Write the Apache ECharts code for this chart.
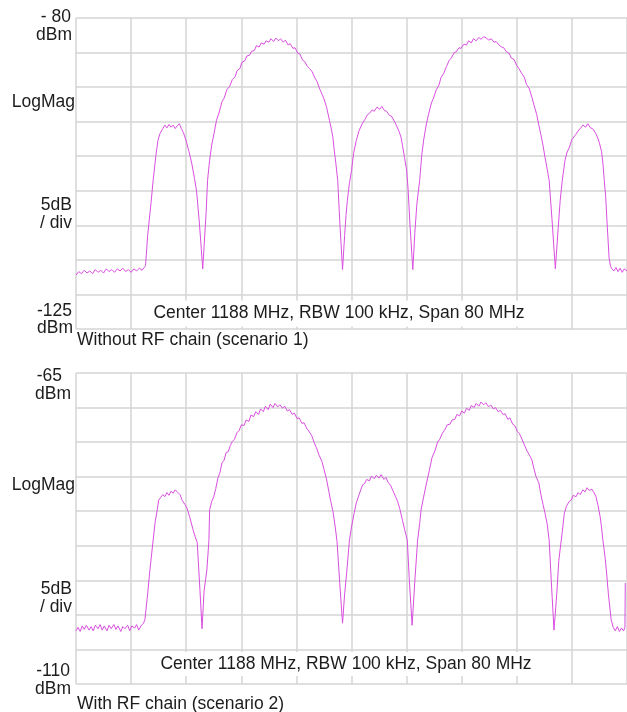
<!DOCTYPE html>
<html>
<head>
<meta charset="utf-8">
<script src="https://cdn.jsdelivr.net/npm/echarts@6/dist/echarts.min.js"></script>
<style>
html,body{margin:0;padding:0;background:#fff;}
#chart{width:627px;height:712px;}
</style>
</head>
<body>
<div id="chart"></div>
<script>
// Frequency axis: Center 1188 MHz, Span 80 MHz, 10 divisions
const freqMin = 1148;
const freqMax = 1228;
const freqStep = 8;

// Reference levels (dBm), 5 dB / div
const topRange = [-125, -80];
const bottomRange = [-110, -65];
const dbPerDiv = 5;

// Text
const topLeftLabels = ['- 80', 'dBm', 'LogMag', '5dB', '/ div', '-125', 'dBm'];
const bottomLeftLabels = ['-65', 'dBm', 'LogMag', '5dB', '/ div', '-110', 'dBm'];
const settingsText = 'Center 1188 MHz, RBW 100 kHz, Span 80 MHz';
const topCaption = 'Without RF chain (scenario 1)';
const bottomCaption = 'With RF chain (scenario 2)';

// Scenario 1 trace [MHz, dBm]
const traceWithoutRF = [
 [1148.0,-117.2],[1148.4,-116.7],[1148.8,-117.0],[1149.2,-116.5],[1149.6,-116.9],[1150.0,-116.6],
 [1150.4,-117.0],[1150.8,-116.4],[1151.2,-116.8],[1151.6,-116.5],[1152.0,-116.9],[1152.4,-116.3],
 [1152.8,-116.7],[1153.2,-116.4],[1153.6,-116.8],[1154.0,-116.3],[1154.4,-116.6],[1154.8,-116.2],
 [1155.2,-116.7],[1155.6,-116.4],[1156.0,-116.8],[1156.4,-116.3],[1156.8,-116.6],[1157.2,-116.2],
 [1157.6,-116.5],[1157.9,-116.1],
 [1158.1,-115.8],[1158.4,-111.5],[1158.9,-106.7],[1159.2,-103.5],[1159.6,-99.9],[1159.9,-97.7],
 [1160.2,-96.7],[1160.6,-96.0],[1160.9,-95.5],[1161.2,-95.9],[1161.5,-95.4],[1161.8,-95.8],
 [1162.1,-95.5],[1162.4,-96.0],[1162.7,-95.6],[1163.0,-95.3],[1163.3,-96.0],[1163.6,-96.6],
 [1164.0,-97.8],[1164.4,-99.3],[1164.8,-101.0],[1165.2,-103.2],[1165.5,-105.0],[1165.9,-109.5],
 [1166.2,-113.5],[1166.4,-116.3],[1166.6,-113.0],[1166.9,-108.0],
 [1167.1,-103.5],[1167.4,-100.6],[1167.7,-98.4],[1168.0,-96.9],[1168.4,-94.8],[1168.8,-93.6],
 [1169.2,-92.1],[1169.5,-91.6],[1169.9,-90.4],[1170.3,-89.9],[1170.7,-88.9],[1171.1,-88.5],
 [1171.4,-87.6],[1171.8,-87.3],[1172.1,-86.4],[1172.5,-86.2],[1172.8,-85.5],[1173.2,-85.4],
 [1173.5,-84.8],[1173.9,-84.7],[1174.2,-84.0],[1174.6,-84.2],[1174.9,-83.6],[1175.3,-83.8],
 [1175.6,-83.3],[1176.0,-83.5],[1176.3,-83.0],[1176.7,-83.4],[1177.0,-82.9],[1177.4,-83.3],
 [1177.7,-83.0],[1178.1,-83.5],[1178.4,-83.2],[1178.8,-83.9],[1179.1,-83.7],[1179.5,-84.4],
 [1179.8,-84.3],[1180.2,-85.1],[1180.5,-85.2],[1180.9,-86.1],[1181.2,-86.3],[1181.6,-87.0],
 [1181.9,-87.3],[1182.3,-87.8],[1182.7,-88.7],[1183.0,-89.2],[1183.4,-90.3],[1183.8,-91.2],
 [1184.1,-92.0],[1184.4,-93.0],[1184.8,-94.8],[1185.1,-96.2],[1185.3,-97.3],[1185.5,-99.2],
 [1185.7,-100.8],[1186.0,-103.5],[1186.3,-109.5],[1186.7,-116.4],[1187.0,-111.5],[1187.2,-108.6],
 [1187.4,-106.4],[1187.7,-103.9],
 [1188.0,-102.1],[1188.3,-99.6],[1188.7,-97.7],[1189.1,-96.3],[1189.6,-95.2],[1190.0,-94.6],
 [1190.3,-94.0],[1190.6,-93.8],[1191.0,-93.3],[1191.3,-93.5],[1191.7,-92.9],[1192.1,-93.2],
 [1192.4,-92.8],[1192.8,-93.4],[1193.1,-93.5],[1193.5,-94.1],[1193.8,-94.2],[1194.2,-94.9],
 [1194.5,-95.5],[1194.9,-96.4],[1195.2,-97.3],[1195.4,-98.4],[1195.7,-100.2],[1196.0,-102.0],
 [1196.2,-104.5],[1196.5,-110.0],[1196.9,-116.4],[1197.2,-111.0],[1197.5,-106.8],
 [1197.9,-103.5],[1198.2,-99.8],[1198.5,-97.5],[1198.9,-95.2],[1199.2,-93.9],[1199.6,-92.3],
 [1199.9,-91.6],[1200.3,-90.4],[1200.7,-89.7],[1201.0,-88.6],[1201.4,-88.0],[1201.8,-87.0],
 [1202.2,-86.1],[1202.5,-85.8],[1202.9,-85.0],[1203.2,-84.9],[1203.6,-84.3],[1203.9,-84.4],
 [1204.3,-83.8],[1204.7,-83.9],[1205.0,-83.3],[1205.4,-83.6],[1205.7,-83.0],[1206.1,-83.3],
 [1206.5,-82.8],[1206.8,-83.1],[1207.2,-82.7],[1207.6,-82.9],[1207.9,-83.2],[1208.3,-83.0],
 [1208.7,-83.5],[1209.0,-83.4],[1209.4,-83.9],[1209.8,-84.2],[1210.1,-84.3],[1210.5,-84.9],
 [1210.9,-85.1],[1211.2,-85.8],[1211.6,-86.0],[1212.0,-86.9],[1212.3,-87.3],[1212.7,-88.0],
 [1213.1,-88.6],[1213.4,-89.6],[1213.8,-90.2],[1214.2,-91.5],[1214.5,-92.6],[1214.9,-94.0],
 [1215.2,-95.5],[1215.5,-96.9],[1215.8,-98.4],[1216.1,-100.2],[1216.4,-101.8],[1216.7,-103.5],
 [1217.1,-109.0],[1217.6,-116.3],[1218.0,-110.5],[1218.3,-106.4],
 [1218.6,-103.5],[1219.0,-100.6],[1219.3,-99.4],[1219.6,-98.8],[1220.0,-97.6],[1220.3,-97.2],
 [1220.6,-96.8],[1221.0,-96.2],[1221.3,-95.9],[1221.6,-95.5],[1222.0,-95.8],[1222.3,-95.3],
 [1222.7,-95.9],[1223.0,-96.0],[1223.4,-96.6],[1223.7,-97.2],[1224.0,-98.1],[1224.3,-99.3],
 [1224.5,-101.0],[1224.7,-103.5],[1224.9,-105.8],[1225.1,-109.5],[1225.4,-114.7],[1225.6,-115.9],
 [1225.8,-116.3],[1226.1,-116.6],[1226.4,-116.1],[1226.7,-116.7],[1227.0,-116.2],[1227.3,-116.8],
 [1227.6,-116.3],[1228.0,-116.6]
];

// Scenario 2 trace [MHz, dBm]
const traceWithRF = [
 [1148.0,-102.3],[1148.3,-101.8],[1148.6,-102.4],[1148.9,-101.6],[1149.2,-102.1],[1149.5,-101.5],
 [1149.9,-102.2],[1150.2,-101.7],[1150.5,-102.3],[1150.8,-101.5],[1151.2,-102.0],[1151.5,-101.4],
 [1151.8,-102.2],[1152.1,-101.6],[1152.5,-102.3],[1152.8,-101.5],[1153.1,-102.0],[1153.5,-101.4],
 [1153.8,-102.1],[1154.1,-101.6],[1154.5,-102.4],[1154.8,-101.7],[1155.1,-102.0],[1155.5,-101.5],
 [1155.8,-102.3],[1156.1,-101.6],[1156.5,-101.9],[1156.8,-101.4],[1157.1,-102.2],[1157.5,-101.5],
 [1157.8,-101.2],
 [1158.0,-100.7],[1158.4,-97.0],[1158.7,-93.8],[1159.2,-89.2],[1159.5,-86.5],[1159.8,-84.8],
 [1160.0,-83.4],[1160.3,-83.0],[1160.6,-82.6],[1160.9,-82.9],[1161.2,-82.3],[1161.5,-82.7],
 [1161.8,-82.1],[1162.1,-82.4],[1162.4,-81.9],[1162.8,-82.3],[1163.1,-82.6],[1163.4,-83.4],
 [1163.8,-84.0],[1164.1,-84.5],[1164.5,-85.8],[1165.0,-87.7],[1165.3,-88.7],[1165.6,-89.5],
 [1166.0,-96.5],[1166.3,-102.0],[1166.6,-96.5],[1167.0,-93.5],[1167.3,-89.2],
 [1167.4,-84.8],[1167.7,-83.6],[1168.0,-82.9],[1168.3,-81.7],[1168.6,-80.2],[1168.9,-79.4],
 [1169.2,-78.0],[1169.5,-77.6],[1169.8,-76.5],[1170.1,-76.4],[1170.4,-75.5],[1170.7,-74.9],
 [1171.0,-74.6],[1171.4,-73.6],[1171.7,-73.3],[1172.0,-72.5],[1172.4,-72.6],[1172.7,-71.8],
 [1173.1,-72.0],[1173.4,-71.1],[1173.8,-71.3],[1174.1,-70.6],[1174.5,-71.0],[1174.8,-70.2],
 [1175.2,-70.6],[1175.5,-69.8],[1175.9,-70.3],[1176.2,-69.5],[1176.6,-70.0],[1176.9,-69.4],
 [1177.3,-69.9],[1177.6,-69.6],[1178.0,-70.1],[1178.3,-69.8],[1178.7,-70.5],[1179.0,-70.3],
 [1179.4,-71.0],[1179.7,-70.8],[1180.1,-71.6],[1180.4,-71.5],[1180.8,-72.3],[1181.1,-72.2],
 [1181.5,-73.0],[1181.8,-73.4],[1182.2,-74.0],[1182.6,-75.1],[1182.9,-75.8],[1183.3,-76.9],
 [1183.7,-77.8],[1184.0,-78.9],[1184.4,-80.5],[1184.7,-82.1],[1185.0,-83.6],[1185.3,-85.0],
 [1185.6,-87.0],[1185.9,-89.4],[1186.3,-95.5],[1186.7,-101.2],[1187.0,-97.0],[1187.3,-93.9],
 [1187.7,-89.2],
 [1188.0,-87.3],[1188.4,-85.2],[1188.7,-83.8],[1189.1,-82.6],[1189.6,-81.2],[1189.9,-81.0],
 [1190.2,-80.4],[1190.6,-80.6],[1190.9,-79.9],[1191.3,-80.3],[1191.6,-79.8],[1192.0,-80.2],
 [1192.3,-79.7],[1192.7,-80.4],[1193.0,-80.1],[1193.3,-80.8],[1193.7,-81.3],[1194.0,-82.0],
 [1194.4,-82.9],[1194.7,-83.6],[1195.0,-84.6],[1195.4,-86.3],[1195.7,-87.6],[1196.1,-89.2],
 [1196.4,-95.0],[1196.8,-101.5],[1197.2,-95.0],[1197.6,-89.2],
 [1197.9,-86.8],[1198.1,-84.8],[1198.5,-82.8],[1198.9,-80.9],[1199.3,-79.1],[1199.7,-77.2],
 [1200.1,-76.3],[1200.5,-75.0],[1200.8,-74.6],[1201.2,-73.7],[1201.5,-73.3],[1201.9,-72.5],
 [1202.3,-72.4],[1202.6,-71.8],[1203.0,-71.7],[1203.3,-71.0],[1203.7,-71.2],[1204.0,-70.5],
 [1204.4,-70.8],[1204.7,-70.1],[1205.1,-70.4],[1205.4,-69.7],[1205.8,-70.0],[1206.1,-69.4],
 [1206.5,-69.8],[1206.8,-69.2],[1207.2,-69.6],[1207.5,-69.3],[1207.9,-69.9],[1208.2,-69.6],
 [1208.6,-70.2],[1208.9,-70.0],[1209.3,-70.6],[1209.6,-70.4],[1210.0,-71.0],[1210.3,-70.9],
 [1210.7,-71.7],[1211.0,-71.5],[1211.4,-72.4],[1211.7,-72.6],[1212.1,-73.5],[1212.4,-73.8],
 [1212.8,-74.7],[1213.1,-75.4],[1213.5,-76.3],[1213.9,-77.0],[1214.2,-77.6],[1214.5,-78.9],
 [1214.8,-80.0],[1215.2,-80.9],[1215.5,-82.6],[1215.8,-84.0],[1216.1,-85.3],[1216.4,-86.8],
 [1216.7,-89.2],[1217.0,-95.0],[1217.4,-102.2],[1217.8,-97.0],[1218.1,-92.1],[1218.6,-88.0],
 [1218.9,-85.3],[1219.2,-84.3],[1219.6,-83.6],[1219.9,-83.4],[1220.2,-82.7],[1220.6,-82.9],
 [1220.9,-82.3],[1221.2,-82.6],[1221.6,-81.9],[1221.9,-82.2],[1222.2,-81.6],[1222.5,-82.0],
 [1222.9,-81.8],[1223.2,-82.3],[1223.5,-82.9],[1223.8,-84.2],[1224.1,-85.8],[1224.3,-87.3],
 [1224.5,-89.2],[1224.8,-91.5],[1225.0,-93.5],[1225.3,-97.0],[1225.7,-100.7],[1226.0,-101.8],
 [1226.3,-102.3],[1226.6,-101.7],[1226.9,-102.4],[1227.2,-101.9],[1227.5,-102.3],[1227.7,-101.8],
 [1227.75,-95.4]
];

// ---------- rendering ----------
const FONT = '17.5px "Liberation Sans", Arial, Helvetica, sans-serif';
const TEXT_COLOR = '#1c1c1c';
const GRID_COLOR = '#d4d4d4';
const TRACE_COLOR = '#d94ee0';

function txt(text, x, y, align, extra) {
  const style = Object.assign({
    text: text, fill: TEXT_COLOR, font: FONT,
    textAlign: align, textVerticalAlign: 'middle'
  }, extra || {});
  return { type: 'text', x: x, y: y, z: 100, style: style };
}

function xAxisCfg(gridIndex) {
  return {
    type: 'value', gridIndex: gridIndex, min: freqMin, max: freqMax, interval: freqStep,
    axisLabel: { show: false }, axisTick: { show: false },
    axisLine: { show: false },
    splitLine: { show: true, lineStyle: { color: GRID_COLOR, width: 1.5 } }
  };
}
function yAxisCfg(gridIndex, range) {
  return {
    type: 'value', gridIndex: gridIndex, min: range[0], max: range[1], interval: dbPerDiv,
    axisLabel: { show: false }, axisTick: { show: false },
    axisLine: { show: false },
    splitLine: { show: true, lineStyle: { color: GRID_COLOR, width: 1.5 } }
  };
}

const topY = [17, 35, 102, 205, 223, 311, 328];
const topX = [71, 72, 75, 72, 72, 72, 73];
const botY = [376, 394, 485, 589, 607, 671, 689];
const botX = [62, 71, 75, 72, 72, 70, 71];

const graphics = [];
topLeftLabels.forEach((t, i) => graphics.push(txt(t, topX[i], topY[i], 'right')));
bottomLeftLabels.forEach((t, i) => graphics.push(txt(t, botX[i], botY[i], 'right')));
graphics.push(txt(settingsText, 339, 313.5, 'center', { backgroundColor: '#fff', padding: [6, 4, 2, 4] }));
graphics.push(txt(settingsText, 346, 664, 'center', { backgroundColor: '#fff', padding: [4, 4, 2, 4] }));
graphics.push(txt(topCaption, 77, 340, 'left'));
graphics.push(txt(bottomCaption, 77, 704, 'left'));

const chart = echarts.init(document.getElementById('chart'), null, { renderer: 'canvas' });
chart.setOption({
  animation: false,
  backgroundColor: '#fff',
  grid: [
    { left: 76, top: 18, width: 552, height: 311 },
    { left: 76, top: 373, width: 552, height: 311 }
  ],
  xAxis: [xAxisCfg(0), xAxisCfg(1)],
  yAxis: [yAxisCfg(0, topRange), yAxisCfg(1, bottomRange)],
  series: [
    { type: 'line', xAxisIndex: 0, yAxisIndex: 0, data: traceWithoutRF, showSymbol: false,
      lineStyle: { color: TRACE_COLOR, width: 1 }, z: 5 },
    { type: 'line', xAxisIndex: 1, yAxisIndex: 1, data: traceWithRF, showSymbol: false,
      lineStyle: { color: TRACE_COLOR, width: 1 }, z: 5 }
  ],
  graphic: graphics
});
</script>
</body>
</html>
